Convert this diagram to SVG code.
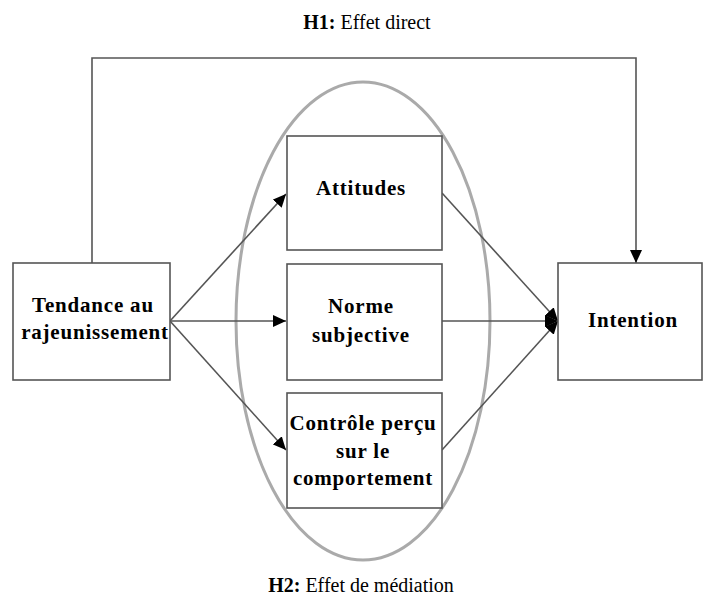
<svg xmlns="http://www.w3.org/2000/svg" width="703" height="599" viewBox="0 0 703 599">
<style>
.box{fill:#fff;stroke:#555;stroke-width:1.6}
.ln{fill:none;stroke:#555;stroke-width:1.6}
.t{font-family:"Liberation Serif",serif;font-weight:bold;font-size:21px;letter-spacing:0.8px;text-anchor:middle;fill:#000}
.cap{font-family:"Liberation Serif",serif;font-size:20px;text-anchor:middle;fill:#000}
</style>
<defs>
<marker id="ah" viewBox="0 0 10 10" refX="10" refY="5" markerWidth="13" markerHeight="12" markerUnits="userSpaceOnUse" orient="auto" preserveAspectRatio="none"><path d="M0,0 L10,5 L0,10 z" fill="#000"/></marker>
</defs>
<rect width="703" height="599" fill="#fff"/>
<ellipse cx="363" cy="321" rx="127" ry="239" fill="none" stroke="#aaa" stroke-width="3"/>
<g id="connectors">
<path class="ln" d="M92,263 V58 H636 V263" marker-end="url(#ah)"/>
<line class="ln" x1="170" y1="321" x2="286" y2="194" marker-end="url(#ah)"/>
<line class="ln" x1="170" y1="321" x2="286" y2="321" marker-end="url(#ah)"/>
<line class="ln" x1="170" y1="321" x2="286" y2="450" marker-end="url(#ah)"/>
<line class="ln" x1="442" y1="193" x2="558" y2="321" marker-end="url(#ah)"/>
<line class="ln" x1="442" y1="321" x2="558" y2="321" marker-end="url(#ah)"/>
<line class="ln" x1="442" y1="450" x2="558" y2="321" marker-end="url(#ah)"/>
</g>
<g id="tendance"><rect class="box" x="13" y="263" width="157" height="117"/>
<text class="t" x="93" y="312">Tendance au</text><text class="t" x="95" y="339">rajeunissement</text></g>
<g id="attitudes"><rect class="box" x="287" y="136" width="155" height="114"/>
<text class="t" x="361" y="195">Attitudes</text></g>
<g id="norme"><rect class="box" x="287" y="264" width="155" height="116"/>
<text class="t" x="361" y="313">Norme</text><text class="t" x="361" y="342">subjective</text></g>
<g id="controle"><rect class="box" x="287" y="393" width="155" height="115"/>
<text class="t" x="363" y="430">Contrôle perçu</text><text class="t" x="363" y="458">sur le</text><text class="t" x="363" y="485">comportement</text></g>
<g id="intention"><rect class="box" x="558" y="263" width="144" height="117"/>
<text class="t" x="633" y="327">Intention</text></g>
<text class="cap" x="367" y="29"><tspan font-weight="bold">H1:</tspan> Effet direct</text>
<text class="cap" x="361" y="592"><tspan font-weight="bold">H2:</tspan> Effet de médiation</text>
</svg>
